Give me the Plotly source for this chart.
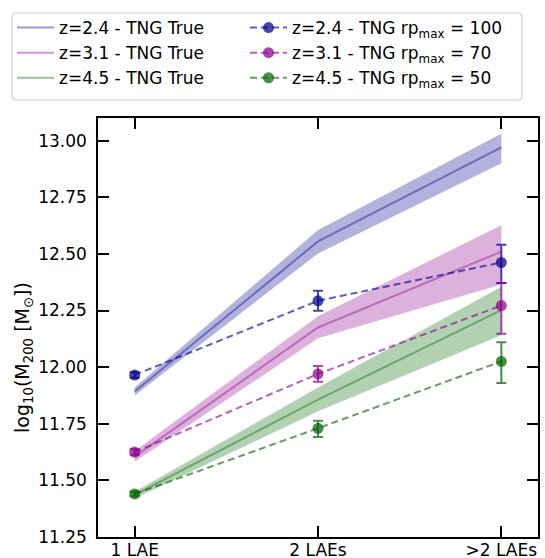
import plotly.graph_objects as go

# Group multiplicity bins on the x axis
categories = ["1 LAE", "2 LAEs", ">2 LAEs"]
x_pos = [0, 1, 2]

# TNG "true" halo masses: median and 16-84 percentile band
true_z24_med = [11.892, 12.555, 12.970]
true_z24_lo = [11.875, 12.502, 12.900]
true_z24_hi = [11.910, 12.605, 13.030]

true_z31_med = [11.605, 12.175, 12.510]
true_z31_lo = [11.582, 12.127, 12.365]
true_z31_hi = [11.630, 12.225, 12.627]

true_z45_med = [11.436, 11.857, 12.252]
true_z45_lo = [11.420, 11.805, 12.141]
true_z45_hi = [11.450, 11.910, 12.355]

# Clustering-based estimates with error bars
rp_z24 = [11.965, 12.293, 12.462]
rp_z24_up = [0.012, 0.044, 0.078]
rp_z24_dn = [0.012, 0.044, 0.090]

rp_z31 = [11.625, 11.970, 12.272]
rp_z31_up = [0.012, 0.035, 0.100]
rp_z31_dn = [0.012, 0.035, 0.125]

rp_z45 = [11.440, 11.730, 12.025]
rp_z45_up = [0.010, 0.033, 0.085]
rp_z45_dn = [0.010, 0.038, 0.095]

y_ticks = [11.25, 11.50, 11.75, 12.00, 12.25, 12.50, 12.75, 13.00]

FONT = "DejaVu Sans"
BLUE = (0, 0, 139)
MAGENTA = (139, 0, 139)
GREEN = (0, 100, 0)

# Figure geometry (pixels)
W, H = 545, 558
ML, MR, MT, MB = 98, 7, 118, 21
PW, PH = W - ML - MR, H - MT - MB


def rgba(c, a):
    return f"rgba({c[0]},{c[1]},{c[2]},{a})"


def px_x(p):
    return (p - ML) / PW


def px_y(p):
    return (H - MB - p) / PH


fig = go.Figure()

groups = [
    ("z=2.4", BLUE, true_z24_med, true_z24_lo, true_z24_hi, rp_z24, rp_z24_up, rp_z24_dn, "100"),
    ("z=3.1", MAGENTA, true_z31_med, true_z31_lo, true_z31_hi, rp_z31, rp_z31_up, rp_z31_dn, "70"),
    ("z=4.5", GREEN, true_z45_med, true_z45_lo, true_z45_hi, rp_z45, rp_z45_up, rp_z45_dn, "50"),
]

# Shaded percentile bands
for label, col, med, lo, hi, rp, up, dn, rpmax in groups:
    fig.add_trace(go.Scatter(x=x_pos, y=lo, mode="lines", line=dict(width=0),
                             showlegend=False, hoverinfo="skip"))
    fig.add_trace(go.Scatter(x=x_pos, y=hi, mode="lines", line=dict(width=0),
                             fill="tonexty", fillcolor=rgba(col, 0.3),
                             showlegend=False, hoverinfo="skip"))

# Median lines (left legend column) and estimates (right legend column)
for label, col, med, lo, hi, rp, up, dn, rpmax in groups:
    fig.add_trace(go.Scatter(
        x=x_pos, y=med, mode="lines",
        line=dict(color=rgba(col, 0.4), width=2),
        legend="legend", legendgroup=f"true{label}",
        name=f"{label} - TNG True"))
for label, col, med, lo, hi, rp, up, dn, rpmax in groups:
    fig.add_trace(go.Scatter(
        x=x_pos, y=rp, mode="lines+markers",
        line=dict(color=rgba(col, 0.62), width=2, dash="7px,4px"),
        marker=dict(color=rgba(col, 0.72), size=11),
        error_y=dict(type="data", array=up, arrayminus=dn, symmetric=False,
                     color=rgba(col, 0.72), thickness=2, width=5),
        legend="legend2", legendgroup=f"rp{label}",
        name=f"{label} - TNG rp<sub>max</sub> = {rpmax}"))

axis_common = dict(
    showline=True, linecolor="black", linewidth=1.5, mirror="allticks",
    ticks="inside", ticklen=11, tickwidth=1.5, tickcolor="black",
    showgrid=False, zeroline=False, automargin=False,
    tickfont=dict(family=FONT, size=17, color="black"),
)

fig.update_xaxes(range=[-0.2, 2.2], tickmode="array", tickvals=x_pos,
                 ticktext=categories, ticklabelstandoff=-3, **axis_common)
fig.update_yaxes(range=[11.25, 13.1], tickmode="array", tickvals=y_ticks,
                 ticktext=[f"{v:.2f}" for v in y_ticks], ticklabelstandoff=6,
                 **axis_common)

fig.add_annotation(
    text="log<sub>10</sub>(M<sub>200</sub> [M<sub>⊙</sub>])",
    xref="paper", yref="paper", x=px_x(23), y=px_y(358),
    xanchor="center", yanchor="middle", textangle=-90, showarrow=False,
    font=dict(family=FONT, size=19, color="black"))

# Rounded frame around both legend columns
x0, x1, y0, y1, r = 12, 522, 13, 100, 4
frame = (
    f"M {px_x(x0 + r)},{px_y(y0)} L {px_x(x1 - r)},{px_y(y0)} "
    f"Q {px_x(x1)},{px_y(y0)} {px_x(x1)},{px_y(y0 + r)} "
    f"L {px_x(x1)},{px_y(y1 - r)} Q {px_x(x1)},{px_y(y1)} {px_x(x1 - r)},{px_y(y1)} "
    f"L {px_x(x0 + r)},{px_y(y1)} Q {px_x(x0)},{px_y(y1)} {px_x(x0)},{px_y(y1 - r)} "
    f"L {px_x(x0)},{px_y(y0 + r)} Q {px_x(x0)},{px_y(y0)} {px_x(x0 + r)},{px_y(y0)} Z"
)
fig.add_shape(type="path", path=frame, xref="paper", yref="paper",
              line=dict(color="#d0d0d0", width=1.2), fillcolor="white",
              layer="below")

legend_common = dict(
    orientation="v", yanchor="top", xanchor="left",
    traceorder="normal", itemwidth=37, tracegroupgap=7,
    bgcolor="rgba(0,0,0,0)", borderwidth=0,
    font=dict(family=FONT, size=17, color="black"),
)

fig.update_layout(
    width=W, height=H,
    margin=dict(l=ML, r=MR, t=MT, b=MB),
    plot_bgcolor="white", paper_bgcolor="white",
    font=dict(family=FONT, size=17, color="black"),
    legend=dict(x=px_x(12), y=px_y(10), **legend_common),
    legend2=dict(x=px_x(245), y=px_y(10), **legend_common),
)

fig.write_html("out.html")
